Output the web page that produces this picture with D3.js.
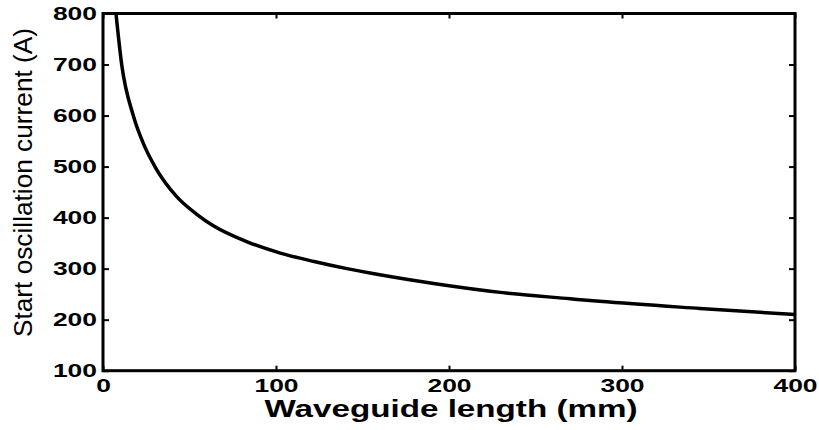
<!DOCTYPE html>
<html>
<head>
<meta charset="utf-8">
<script src="https://cdn.jsdelivr.net/npm/d3@7"></script>
<style>
  body { margin: 0; background: #fff; }
  text { font-family: "Liberation Sans", Arial, sans-serif; }
</style>
</head>
<body>
<div id="chart-area"></div>
<script>
// waveguide length (mm) vs start oscillation current (A)
var lengths  = [7.5, 10.8, 17.5, 24, 30, 42.6, 54, 63.8, 83, 102, 122, 141, 160, 193, 231, 270, 287, 345, 400]
var currents = [800, 700, 600, 540, 500, 441, 407, 384, 353, 331, 314, 300, 288, 270, 253, 241, 236, 222, 210]

var xTicks = [0, 100, 200, 300, 400]
var yTicks = [100, 200, 300, 400, 500, 600, 700, 800]

var margin = { left: 103, right: 24, top: 13.5, bottom: 59.3 }
var width = 819 - margin.left - margin.right,
    height = 430 - margin.top - margin.bottom

var svg = d3.select("#chart-area").append("svg")
    .attr("width", 819)
    .attr("height", 430)

var g = svg.append("g")
    .attr("transform", "translate(" + margin.left + "," + margin.top + ")")

var x = d3.scaleLinear().domain([0, 400]).range([0, width])
var y = d3.scaleLinear().domain([100, 800]).range([height, 0])

var data = lengths.map(function(d, i) { return { len: d, cur: currents[i] } })

// tick labels in the picture are wide, so stretch them
function stretch(sel) {
  sel.selectAll("text")
    .attr("font-size", "17.5px")
    .attr("font-weight", "bold")
    .attr("fill", "#000")
    .attr("textLength", function(d) { return String(d).length * 14.7 })
    .attr("lengthAdjust", "spacingAndGlyphs")
}

var xAxisGroup = g.append("g")
  .attr("transform", "translate(0," + height + ")")
  .call(d3.axisBottom(x).tickValues(xTicks).tickSize(-5).tickSizeOuter(0).tickPadding(9))
xAxisGroup.call(stretch)

var yAxisGroup = g.append("g")
  .call(d3.axisLeft(y).tickValues(yTicks).tickSize(-6).tickSizeOuter(0).tickPadding(6))
yAxisGroup.call(stretch)

// ticks on the other two sides, no labels
g.append("g")
  .call(d3.axisTop(x).tickValues(xTicks).tickSize(-5).tickSizeOuter(0).tickFormat(""))
g.append("g")
  .attr("transform", "translate(" + width + ",0)")
  .call(d3.axisRight(y).tickValues(yTicks).tickSize(-6).tickSizeOuter(0).tickFormat(""))

g.selectAll(".domain").remove()
g.selectAll(".tick line").attr("stroke", "#000").attr("stroke-width", 2)

g.append("rect")
  .attr("width", width)
  .attr("height", height)
  .attr("fill", "none")
  .attr("stroke", "#000")
  .attr("stroke-width", 3)

g.append("clipPath").attr("id", "clip")
  .append("rect").attr("width", width).attr("height", height)

var line = d3.line()
  .x(function(d) { return x(d.len) })
  .y(function(d) { return y(d.cur) })
  .curve(d3.curveMonotoneX)

g.append("path")
  .datum(data)
  .attr("clip-path", "url(#clip)")
  .attr("fill", "none")
  .attr("stroke", "#000")
  .attr("stroke-width", 3.5)
  .attr("d", line)

g.append("text")
  .attr("x", width / 2 + 2)
  .attr("y", height + 46.5)
  .attr("text-anchor", "middle")
  .attr("font-size", "24px")
  .attr("font-weight", "bold")
  .attr("textLength", 373)
  .attr("lengthAdjust", "spacingAndGlyphs")
  .text("Waveguide length (mm)")

g.append("text")
  .attr("transform", "rotate(-90)")
  .attr("x", -169)
  .attr("y", 32 - margin.left)
  .attr("text-anchor", "middle")
  .attr("font-size", "26.5px")
  .attr("textLength", 309)
  .attr("lengthAdjust", "spacingAndGlyphs")
  .text("Start oscillation current (A)")
</script>
</body>
</html>
